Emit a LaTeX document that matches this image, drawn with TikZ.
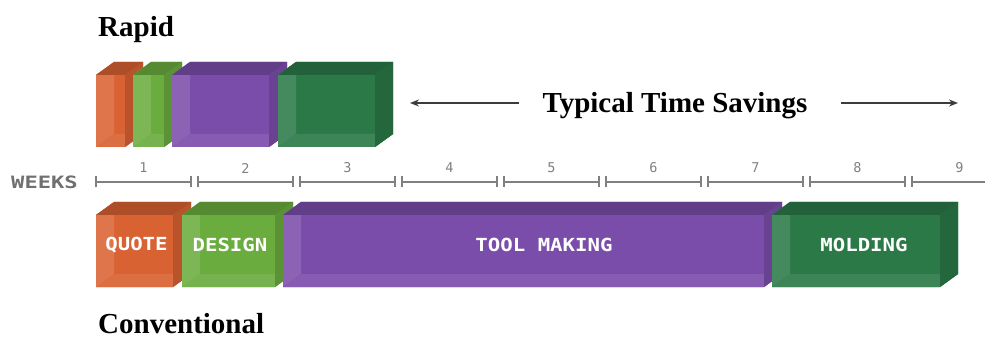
\documentclass[tikz,border=0pt]{standalone}
\usepackage{fontspec}
\setmainfont{Liberation Serif}
\newfontfamily\blockfont[FakeStretch=1.15]{DejaVu Sans Mono}
\newfontfamily\weeksfont[FakeStretch=1.3]{DejaVu Sans Mono}
\newfontfamily\numfont{DejaVu Sans Mono}
\usetikzlibrary{arrows.meta}

\definecolor{quoteC}{RGB}{217,98,50}
\definecolor{designC}{RGB}{106,172,62}
\definecolor{toolC}{RGB}{123,77,170}
\definecolor{moldC}{RGB}{44,121,72}
\definecolor{scalegray}{RGB}{128,128,128}
\definecolor{weeksgray}{RGB}{112,112,112}
\definecolor{arrowgray}{RGB}{60,60,60}

% translucent-looking bevelled slab: #1 x0, #2 y0, #3 x1, #4 y1, #5 colour, #6 name
\newcommand\slab[6]{%
  \fill[#5] (#1,#2+13) -- (#1+18,#2) -- (#3,#2) -- (#3,#4-13) -- (#3-18,#4) -- (#1,#4) -- cycle;
  \fill[#5!88!white] (#1,#2+13) -- (#1+18,#2) -- (#1+18,#4-13) -- (#1,#4) -- cycle;
  \fill[#5!92!white] (#1,#4) -- (#1+18,#4-13) -- (#3,#4-13) -- (#3-18,#4) -- cycle;
  \fill[#5!80!black] (#1,#2+13) -- (#1+18,#2) -- (#3,#2) -- (#3-18,#2+13) -- cycle;
  \fill[#5!85!black] (#3-18,#2+13) -- (#3,#2) -- (#3,#4-13) -- (#3-18,#4) -- cycle;
  \coordinate (#6) at ({(#1+#3)/2},{(#2+#4)/2});
}

\begin{document}
\begin{tikzpicture}[x=1pt,y=-1pt,
  heading/.style={font=\fontsize{29}{29}\selectfont\bfseries, text=black, inner sep=0pt},
  stagelabel/.style={font=\blockfont\fontsize{18}{18}\selectfont\bfseries, text=white, inner sep=0pt},
  weeknum/.style={font=\numfont\fontsize{13.5}{13.5}\selectfont, text=scalegray, inner sep=0pt},
  scaleline/.style={draw=scalegray, line width=2pt},
  savingarrow/.style={draw=arrowgray, line width=1.5pt, -{Stealth[length=9pt,width=7pt]}},
]
\useasboundingbox (0,0) rectangle (985,339);

% headings
\node[heading, anchor=base west] (rapid) at (98,37) {Rapid};
\node[heading, anchor=base west] (conv) at (98,333) {Conventional};

% rapid process
\slab{96}{62}{143}{147}{quoteC}{rquote}
\slab{133}{62}{182}{147}{designC}{rdesign}
\slab{172}{62}{287}{147}{toolC}{rtool}
\slab{278}{62}{393}{147}{moldC}{rmold}

% time savings
\node[heading, anchor=base] (savings) at (675,113) {Typical Time Savings};
\coordinate (lstart) at (519,103);
\coordinate (ltip) at (410,103);
\coordinate (rstart) at (841,103);
\coordinate (rtip) at (958,103);
\draw[savingarrow] (lstart) -- (ltip);
\draw[savingarrow] (rstart) -- (rtip);

% week scale
\node[font=\weeksfont\fontsize{17}{17}\selectfont\bfseries, text=weeksgray, inner sep=0pt, anchor=west] (weeks) at (11,182.5) {WEEKS};
\foreach \k in {1,...,8} {
  \coordinate (a\k) at ({96+102*(\k-1)},182);
  \coordinate (b\k) at ({191+102*(\k-1)},182);
  \draw[scaleline] (a\k) -- (b\k);
  \draw[scaleline] ([yshift=-5.5pt]a\k) -- ([yshift=5.5pt]a\k);
  \draw[scaleline] ([yshift=-5.5pt]b\k) -- ([yshift=5.5pt]b\k);
  \node[weeknum] (w\k) at ({143.5+102*(\k-1)},168) {\k};
}
\coordinate (a9) at (912,182);
\coordinate (b9) at (985,182);
\draw[scaleline] (a9) -- (b9);
\draw[scaleline] ([yshift=-5.5pt]a9) -- ([yshift=5.5pt]a9);
\node[weeknum] (w9) at (959.5,168) {9};

% conventional process
\slab{96}{202}{191}{287}{quoteC}{cquote}
\slab{182}{202}{293}{287}{designC}{cdesign}
\slab{283}{202}{782}{287}{toolC}{ctool}
\slab{772}{202}{958}{287}{moldC}{cmold}

\node[stagelabel] (quote) at (136.5,245) {QUOTE};
\node[stagelabel] (design) at (230,245) {DESIGN};
\node[stagelabel] (tool) at (544,245) {TOOL MAKING};
\node[stagelabel] (mold) at (864,245) {MOLDING};
\end{tikzpicture}
\end{document}
